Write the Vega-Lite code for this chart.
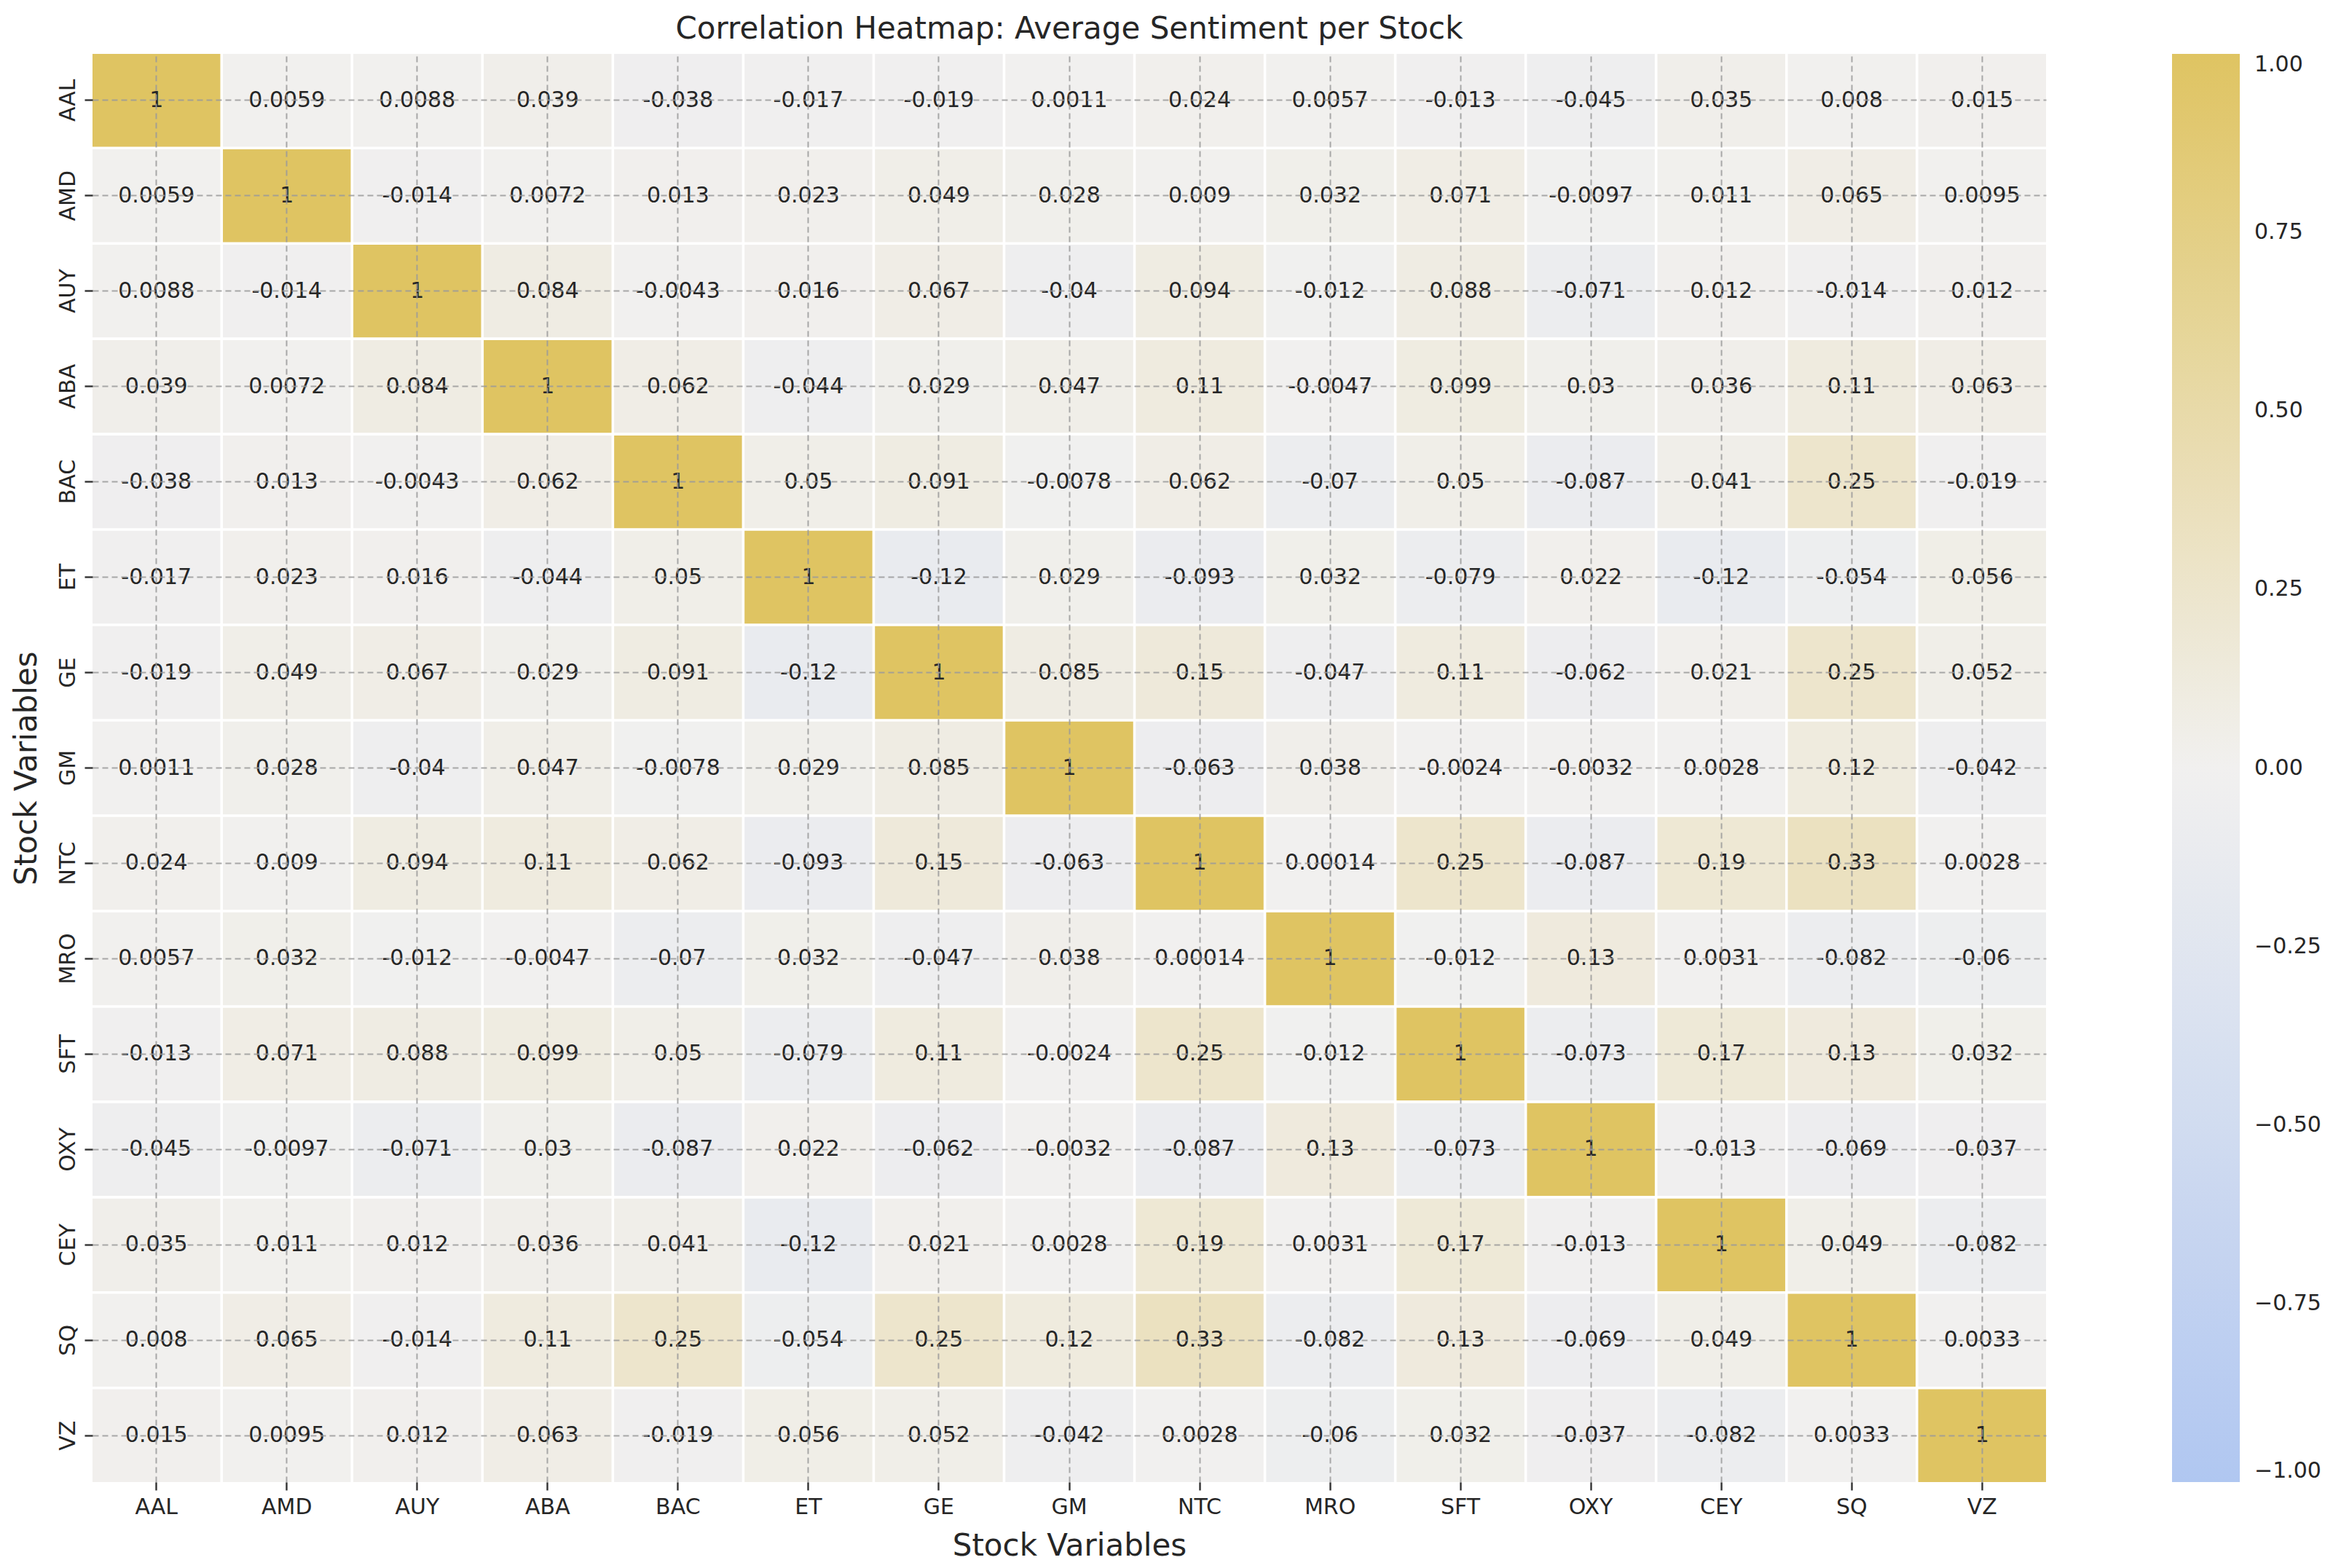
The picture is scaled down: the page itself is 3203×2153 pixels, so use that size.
{
  "$schema": "https://vega.github.io/schema/vega-lite/v6.json",
  "width": 2682,
  "height": 1961,
  "autosize": "none",
  "padding": {"left": 127, "top": 74, "right": 394, "bottom": 118},
  "background": "white",
  "title": {"text": "Correlation Heatmap: Average Sentiment per Stock", "fontSize": 42, "font": "DejaVu Sans", "fontWeight": "normal", "color": "#262626", "offset": 12},
  "config": {
    "view": {"stroke": null},
    "font": "DejaVu Sans",
    "locale": {"number": {"decimal": ".", "thousands": ",", "grouping": [3], "currency": ["$", ""], "minus": "-"}},
    "axis": {
      "labelFont": "DejaVu Sans", "titleFont": "DejaVu Sans",
      "labelFontSize": 30, "titleFontSize": 42, "titleFontWeight": "normal",
      "labelColor": "#262626", "titleColor": "#262626",
      "domain": false, "ticks": true, "tickSize": 11, "tickWidth": 2.4, "tickColor": "#333333"
    }
  },
  "data": {"values": [
    {"x":"AAL","y":"AAL","v":1},{"x":"AMD","y":"AAL","v":0.0059},{"x":"AUY","y":"AAL","v":0.0088},{"x":"ABA","y":"AAL","v":0.039},{"x":"BAC","y":"AAL","v":-0.038},{"x":"ET","y":"AAL","v":-0.017},{"x":"GE","y":"AAL","v":-0.019},{"x":"GM","y":"AAL","v":0.0011},{"x":"NTC","y":"AAL","v":0.024},{"x":"MRO","y":"AAL","v":0.0057},{"x":"SFT","y":"AAL","v":-0.013},{"x":"OXY","y":"AAL","v":-0.045},{"x":"CEY","y":"AAL","v":0.035},{"x":"SQ","y":"AAL","v":0.008},{"x":"VZ","y":"AAL","v":0.015},
    {"x":"AAL","y":"AMD","v":0.0059},{"x":"AMD","y":"AMD","v":1},{"x":"AUY","y":"AMD","v":-0.014},{"x":"ABA","y":"AMD","v":0.0072},{"x":"BAC","y":"AMD","v":0.013},{"x":"ET","y":"AMD","v":0.023},{"x":"GE","y":"AMD","v":0.049},{"x":"GM","y":"AMD","v":0.028},{"x":"NTC","y":"AMD","v":0.009},{"x":"MRO","y":"AMD","v":0.032},{"x":"SFT","y":"AMD","v":0.071},{"x":"OXY","y":"AMD","v":-0.0097},{"x":"CEY","y":"AMD","v":0.011},{"x":"SQ","y":"AMD","v":0.065},{"x":"VZ","y":"AMD","v":0.0095},
    {"x":"AAL","y":"AUY","v":0.0088},{"x":"AMD","y":"AUY","v":-0.014},{"x":"AUY","y":"AUY","v":1},{"x":"ABA","y":"AUY","v":0.084},{"x":"BAC","y":"AUY","v":-0.0043},{"x":"ET","y":"AUY","v":0.016},{"x":"GE","y":"AUY","v":0.067},{"x":"GM","y":"AUY","v":-0.04},{"x":"NTC","y":"AUY","v":0.094},{"x":"MRO","y":"AUY","v":-0.012},{"x":"SFT","y":"AUY","v":0.088},{"x":"OXY","y":"AUY","v":-0.071},{"x":"CEY","y":"AUY","v":0.012},{"x":"SQ","y":"AUY","v":-0.014},{"x":"VZ","y":"AUY","v":0.012},
    {"x":"AAL","y":"ABA","v":0.039},{"x":"AMD","y":"ABA","v":0.0072},{"x":"AUY","y":"ABA","v":0.084},{"x":"ABA","y":"ABA","v":1},{"x":"BAC","y":"ABA","v":0.062},{"x":"ET","y":"ABA","v":-0.044},{"x":"GE","y":"ABA","v":0.029},{"x":"GM","y":"ABA","v":0.047},{"x":"NTC","y":"ABA","v":0.11},{"x":"MRO","y":"ABA","v":-0.0047},{"x":"SFT","y":"ABA","v":0.099},{"x":"OXY","y":"ABA","v":0.03},{"x":"CEY","y":"ABA","v":0.036},{"x":"SQ","y":"ABA","v":0.11},{"x":"VZ","y":"ABA","v":0.063},
    {"x":"AAL","y":"BAC","v":-0.038},{"x":"AMD","y":"BAC","v":0.013},{"x":"AUY","y":"BAC","v":-0.0043},{"x":"ABA","y":"BAC","v":0.062},{"x":"BAC","y":"BAC","v":1},{"x":"ET","y":"BAC","v":0.05},{"x":"GE","y":"BAC","v":0.091},{"x":"GM","y":"BAC","v":-0.0078},{"x":"NTC","y":"BAC","v":0.062},{"x":"MRO","y":"BAC","v":-0.07},{"x":"SFT","y":"BAC","v":0.05},{"x":"OXY","y":"BAC","v":-0.087},{"x":"CEY","y":"BAC","v":0.041},{"x":"SQ","y":"BAC","v":0.25},{"x":"VZ","y":"BAC","v":-0.019},
    {"x":"AAL","y":"ET","v":-0.017},{"x":"AMD","y":"ET","v":0.023},{"x":"AUY","y":"ET","v":0.016},{"x":"ABA","y":"ET","v":-0.044},{"x":"BAC","y":"ET","v":0.05},{"x":"ET","y":"ET","v":1},{"x":"GE","y":"ET","v":-0.12},{"x":"GM","y":"ET","v":0.029},{"x":"NTC","y":"ET","v":-0.093},{"x":"MRO","y":"ET","v":0.032},{"x":"SFT","y":"ET","v":-0.079},{"x":"OXY","y":"ET","v":0.022},{"x":"CEY","y":"ET","v":-0.12},{"x":"SQ","y":"ET","v":-0.054},{"x":"VZ","y":"ET","v":0.056},
    {"x":"AAL","y":"GE","v":-0.019},{"x":"AMD","y":"GE","v":0.049},{"x":"AUY","y":"GE","v":0.067},{"x":"ABA","y":"GE","v":0.029},{"x":"BAC","y":"GE","v":0.091},{"x":"ET","y":"GE","v":-0.12},{"x":"GE","y":"GE","v":1},{"x":"GM","y":"GE","v":0.085},{"x":"NTC","y":"GE","v":0.15},{"x":"MRO","y":"GE","v":-0.047},{"x":"SFT","y":"GE","v":0.11},{"x":"OXY","y":"GE","v":-0.062},{"x":"CEY","y":"GE","v":0.021},{"x":"SQ","y":"GE","v":0.25},{"x":"VZ","y":"GE","v":0.052},
    {"x":"AAL","y":"GM","v":0.0011},{"x":"AMD","y":"GM","v":0.028},{"x":"AUY","y":"GM","v":-0.04},{"x":"ABA","y":"GM","v":0.047},{"x":"BAC","y":"GM","v":-0.0078},{"x":"ET","y":"GM","v":0.029},{"x":"GE","y":"GM","v":0.085},{"x":"GM","y":"GM","v":1},{"x":"NTC","y":"GM","v":-0.063},{"x":"MRO","y":"GM","v":0.038},{"x":"SFT","y":"GM","v":-0.0024},{"x":"OXY","y":"GM","v":-0.0032},{"x":"CEY","y":"GM","v":0.0028},{"x":"SQ","y":"GM","v":0.12},{"x":"VZ","y":"GM","v":-0.042},
    {"x":"AAL","y":"NTC","v":0.024},{"x":"AMD","y":"NTC","v":0.009},{"x":"AUY","y":"NTC","v":0.094},{"x":"ABA","y":"NTC","v":0.11},{"x":"BAC","y":"NTC","v":0.062},{"x":"ET","y":"NTC","v":-0.093},{"x":"GE","y":"NTC","v":0.15},{"x":"GM","y":"NTC","v":-0.063},{"x":"NTC","y":"NTC","v":1},{"x":"MRO","y":"NTC","v":0.00014},{"x":"SFT","y":"NTC","v":0.25},{"x":"OXY","y":"NTC","v":-0.087},{"x":"CEY","y":"NTC","v":0.19},{"x":"SQ","y":"NTC","v":0.33},{"x":"VZ","y":"NTC","v":0.0028},
    {"x":"AAL","y":"MRO","v":0.0057},{"x":"AMD","y":"MRO","v":0.032},{"x":"AUY","y":"MRO","v":-0.012},{"x":"ABA","y":"MRO","v":-0.0047},{"x":"BAC","y":"MRO","v":-0.07},{"x":"ET","y":"MRO","v":0.032},{"x":"GE","y":"MRO","v":-0.047},{"x":"GM","y":"MRO","v":0.038},{"x":"NTC","y":"MRO","v":0.00014},{"x":"MRO","y":"MRO","v":1},{"x":"SFT","y":"MRO","v":-0.012},{"x":"OXY","y":"MRO","v":0.13},{"x":"CEY","y":"MRO","v":0.0031},{"x":"SQ","y":"MRO","v":-0.082},{"x":"VZ","y":"MRO","v":-0.06},
    {"x":"AAL","y":"SFT","v":-0.013},{"x":"AMD","y":"SFT","v":0.071},{"x":"AUY","y":"SFT","v":0.088},{"x":"ABA","y":"SFT","v":0.099},{"x":"BAC","y":"SFT","v":0.05},{"x":"ET","y":"SFT","v":-0.079},{"x":"GE","y":"SFT","v":0.11},{"x":"GM","y":"SFT","v":-0.0024},{"x":"NTC","y":"SFT","v":0.25},{"x":"MRO","y":"SFT","v":-0.012},{"x":"SFT","y":"SFT","v":1},{"x":"OXY","y":"SFT","v":-0.073},{"x":"CEY","y":"SFT","v":0.17},{"x":"SQ","y":"SFT","v":0.13},{"x":"VZ","y":"SFT","v":0.032},
    {"x":"AAL","y":"OXY","v":-0.045},{"x":"AMD","y":"OXY","v":-0.0097},{"x":"AUY","y":"OXY","v":-0.071},{"x":"ABA","y":"OXY","v":0.03},{"x":"BAC","y":"OXY","v":-0.087},{"x":"ET","y":"OXY","v":0.022},{"x":"GE","y":"OXY","v":-0.062},{"x":"GM","y":"OXY","v":-0.0032},{"x":"NTC","y":"OXY","v":-0.087},{"x":"MRO","y":"OXY","v":0.13},{"x":"SFT","y":"OXY","v":-0.073},{"x":"OXY","y":"OXY","v":1},{"x":"CEY","y":"OXY","v":-0.013},{"x":"SQ","y":"OXY","v":-0.069},{"x":"VZ","y":"OXY","v":-0.037},
    {"x":"AAL","y":"CEY","v":0.035},{"x":"AMD","y":"CEY","v":0.011},{"x":"AUY","y":"CEY","v":0.012},{"x":"ABA","y":"CEY","v":0.036},{"x":"BAC","y":"CEY","v":0.041},{"x":"ET","y":"CEY","v":-0.12},{"x":"GE","y":"CEY","v":0.021},{"x":"GM","y":"CEY","v":0.0028},{"x":"NTC","y":"CEY","v":0.19},{"x":"MRO","y":"CEY","v":0.0031},{"x":"SFT","y":"CEY","v":0.17},{"x":"OXY","y":"CEY","v":-0.013},{"x":"CEY","y":"CEY","v":1},{"x":"SQ","y":"CEY","v":0.049},{"x":"VZ","y":"CEY","v":-0.082},
    {"x":"AAL","y":"SQ","v":0.008},{"x":"AMD","y":"SQ","v":0.065},{"x":"AUY","y":"SQ","v":-0.014},{"x":"ABA","y":"SQ","v":0.11},{"x":"BAC","y":"SQ","v":0.25},{"x":"ET","y":"SQ","v":-0.054},{"x":"GE","y":"SQ","v":0.25},{"x":"GM","y":"SQ","v":0.12},{"x":"NTC","y":"SQ","v":0.33},{"x":"MRO","y":"SQ","v":-0.082},{"x":"SFT","y":"SQ","v":0.13},{"x":"OXY","y":"SQ","v":-0.069},{"x":"CEY","y":"SQ","v":0.049},{"x":"SQ","y":"SQ","v":1},{"x":"VZ","y":"SQ","v":0.0033},
    {"x":"AAL","y":"VZ","v":0.015},{"x":"AMD","y":"VZ","v":0.0095},{"x":"AUY","y":"VZ","v":0.012},{"x":"ABA","y":"VZ","v":0.063},{"x":"BAC","y":"VZ","v":-0.019},{"x":"ET","y":"VZ","v":0.056},{"x":"GE","y":"VZ","v":0.052},{"x":"GM","y":"VZ","v":-0.042},{"x":"NTC","y":"VZ","v":0.0028},{"x":"MRO","y":"VZ","v":-0.06},{"x":"SFT","y":"VZ","v":0.032},{"x":"OXY","y":"VZ","v":-0.037},{"x":"CEY","y":"VZ","v":-0.082},{"x":"SQ","y":"VZ","v":0.0033},{"x":"VZ","y":"VZ","v":1}
  ]},
  "encoding": {
    "x": {"field": "x", "type": "nominal", "sort": ["AAL","AMD","AUY","ABA","BAC","ET","GE","GM","NTC","MRO","SFT","OXY","CEY","SQ","VZ"],
      "scale": {"paddingInner": 0.02, "paddingOuter": 0},
      "axis": {"title": "Stock Variables", "labelAngle": 0, "labelPadding": 8, "titlePadding": 18,
        "grid": true, "gridDash": [8, 5], "gridColor": "#9a9a9a", "gridWidth": 2, "gridOpacity": 0.85, "bandPosition": 0.5, "zindex": 1}},
    "y": {"field": "y", "type": "nominal", "sort": ["AAL","AMD","AUY","ABA","BAC","ET","GE","GM","NTC","MRO","SFT","OXY","CEY","SQ","VZ"],
      "scale": {"paddingInner": 0.027, "paddingOuter": 0},
      "axis": {"title": "Stock Variables", "labelAngle": 270, "labelAlign": "center", "labelBaseline": "bottom", "labelPadding": 8, "titlePadding": 20,
        "grid": true, "gridDash": [8, 5], "gridColor": "#9a9a9a", "gridWidth": 2, "gridOpacity": 0.85, "bandPosition": 0.5, "zindex": 1}}
  },
  "layer": [
    {"mark": {"type": "rect"},
     "encoding": {"color": {"field": "v", "type": "quantitative",
        "scale": {"domain": [-1, 0, 1], "range": ["#b0c7f1", "#f1f0ef", "#dfc462"], "interpolate": "rgb"},
        "legend": {"type": "gradient", "direction": "vertical", "orient": "right", "offset": 173, "padding": 0,
          "gradientLength": 1961, "gradientThickness": 93, "gradientStrokeWidth": 0,
          "values": [-1, -0.75, -0.5, -0.25, 0, 0.25, 0.5, 0.75, 1], "format": ".2f",
          "labelExpr": "replace(datum.label, '-', '\u2212')",
          "labelFontSize": 30, "labelFont": "DejaVu Sans", "labelColor": "#262626", "labelOffset": 20, "labelBaseline": "middle",
          "title": null}}}},
    {"mark": {"type": "text", "fontSize": 30, "font": "DejaVu Sans", "color": "#262626", "baseline": "middle"},
     "encoding": {"text": {"field": "v", "type": "quantitative", "format": ".2~r"}}}
  ]
}
